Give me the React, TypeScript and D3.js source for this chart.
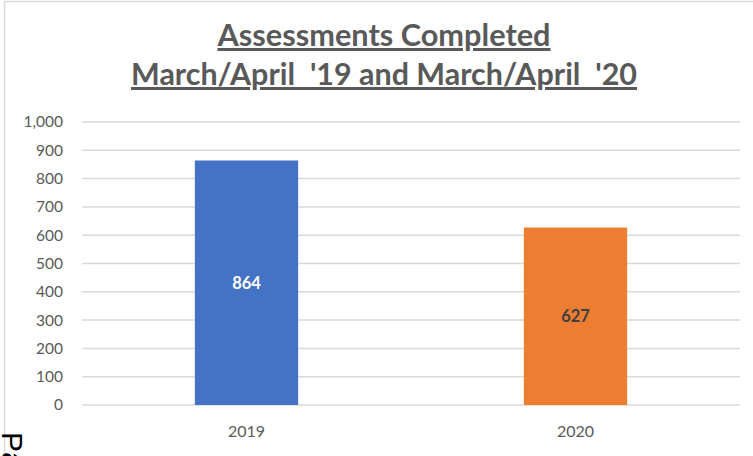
import React, {useEffect, useRef} from 'react';
import * as d3 from 'd3';

const categories = ['2019', '2020'];
const values = [864, 627];
const barColors = ['#4472C4', '#ED7D31'];
const labelColors = ['#FFFFFF', '#404040'];
const yTicks = [0, 100, 200, 300, 400, 500, 600, 700, 800, 900, 1000];
const titleLines = ['Assessments Completed', "March/April  '19 and March/April  '20"];

const width = 753;
const height = 456;

const App: React.FC = () => {
    const svgRef = useRef<SVGSVGElement | null>(null);

    useEffect(() => {
        const margin = {top: 122, right: 13, bottom: 51, left: 82};
        const svg = d3.select(svgRef.current);
        svg.selectAll('*').remove();

        // chart area border
        svg.append('rect')
            .attr('x', 4.5)
            .attr('y', 1.5)
            .attr('width', width + 20)
            .attr('height', height + 20)
            .attr('fill', '#fff')
            .attr('stroke', '#d9d9d9')
            .attr('stroke-width', 1.5);

        const xScale = d3.scaleBand<string>()
            .domain(categories)
            .range([margin.left, width - margin.right])
            .paddingInner(0.686)
            .paddingOuter(0.343);

        const yScale = d3.scaleLinear()
            .domain([0, 1000])
            .range([height - margin.bottom, margin.top]);

        // gridlines
        svg.append('g')
            .selectAll('line')
            .data(yTicks)
            .enter()
            .append('line')
            .attr('x1', margin.left)
            .attr('x2', width - margin.right)
            .attr('y1', d => yScale(d))
            .attr('y2', d => yScale(d))
            .attr('stroke', '#d9d9d9')
            .attr('stroke-width', 1.5);

        // y tick labels
        const fmt = d3.format(',');
        svg.append('g')
            .selectAll('text')
            .data(yTicks)
            .enter()
            .append('text')
            .attr('x', 63)
            .attr('y', d => yScale(d))
            .attr('dy', '0.35em')
            .attr('text-anchor', 'end')
            .attr('font-family', 'Lato, sans-serif')
            .attr('font-size', 15.5)
            .attr('fill', '#595959')
            .text(d => fmt(d));

        // bars
        svg.append('g')
            .selectAll('rect')
            .data(values)
            .enter()
            .append('rect')
            .attr('x', (d, i) => xScale(categories[i])!)
            .attr('y', d => yScale(d))
            .attr('width', xScale.bandwidth())
            .attr('height', d => yScale(0) - yScale(d))
            .attr('fill', (d, i) => barColors[i]);

        // value labels
        svg.append('g')
            .selectAll('text')
            .data(values)
            .enter()
            .append('text')
            .attr('x', (d, i) => xScale(categories[i])! + xScale.bandwidth() / 2)
            .attr('y', d => (yScale(d) + yScale(0)) / 2)
            .attr('dy', '0.35em')
            .attr('text-anchor', 'middle')
            .attr('font-family', 'Lato, sans-serif')
            .attr('font-weight', 'bold')
            .attr('font-size', 16.5)
            .attr('fill', (d, i) => labelColors[i])
            .text(d => d);

        // x labels
        svg.append('g')
            .selectAll('text')
            .data(categories)
            .enter()
            .append('text')
            .attr('x', d => xScale(d)! + xScale.bandwidth() / 2)
            .attr('y', 437)
            .attr('text-anchor', 'middle')
            .attr('font-family', 'Lato, sans-serif')
            .attr('font-size', 16)
            .attr('fill', '#595959')
            .text(d => d);

        // title
        const titleWidths = [333, 506];
        svg.append('g')
            .selectAll('text')
            .data(titleLines)
            .enter()
            .append('text')
            .attr('x', 384)
            .attr('y', (d, i) => 46 + i * 39)
            .attr('text-anchor', 'middle')
            .attr('font-family', 'Lato, sans-serif')
            .attr('font-weight', 'bold')
            .attr('font-size', 30)
            .attr('fill', '#595959')
            .attr('text-decoration', 'underline')
            .attr('textLength', (d, i) => titleWidths[i])
            .attr('lengthAdjust', 'spacingAndGlyphs')
            .style('white-space', 'pre')
            .text(d => d);

        // stray text outside the chart, bottom-left
        svg.append('text')
            .attr('transform', 'translate(2,432) rotate(90)')
            .attr('font-family', 'Liberation Sans, sans-serif')
            .attr('font-size', 30)
            .attr('fill', '#000')
            .text('Pa');
    }, []);

    return <svg ref={svgRef} width={width} height={height}
                style={{position: 'absolute', left: 0, top: 0}}></svg>;
};

export default App;
